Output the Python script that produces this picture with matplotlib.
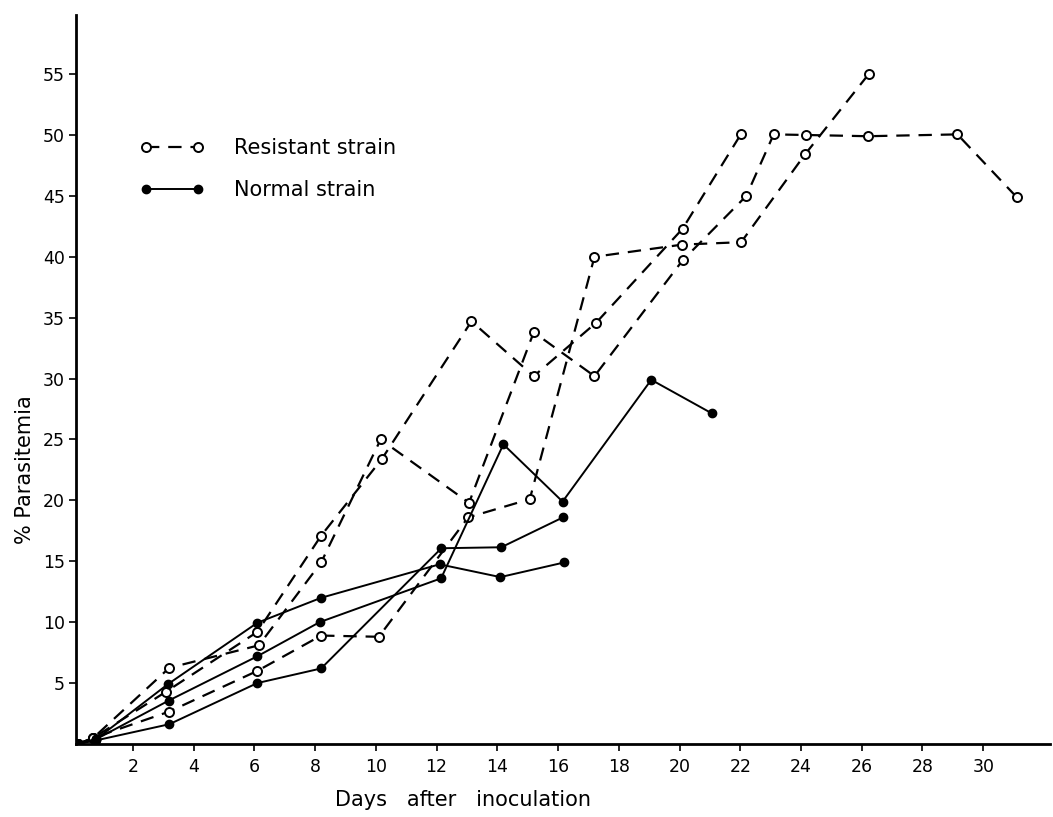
import matplotlib
matplotlib.use("Agg")
import matplotlib.pyplot as plt

# Resistant strain (open circles, dashed)
res_a_days = [0.2, 0.7, 3.1, 6.1, 8.2, 10.2, 13.15, 15.2, 17.26, 20.1, 22.03]
res_a_vals = [0, 0.5, 4.3, 9.2, 17.1, 23.4, 34.7, 30.2, 34.6, 42.3, 50.1]
res_b_days = [0.2, 0.7, 3.2, 6.15, 8.2, 10.16, 13.07, 15.2, 17.2, 20.1, 22.2, 23.1, 24.17, 26.2, 29.15, 31.1]
res_b_vals = [0, 0.5, 6.25, 8.1, 14.9, 25.0, 19.8, 33.8, 30.2, 39.7, 45.0, 50.05, 50.0, 49.9, 50.05, 44.9]
res_c_days = [0.2, 0.7, 3.2, 6.1, 8.2, 10.1, 13.04, 15.07, 17.2, 20.09, 22.03, 24.13, 26.23]
res_c_vals = [0, 0.5, 2.66, 6.0, 8.9, 8.8, 18.6, 20.1, 40.0, 41.0, 41.2, 48.4, 55.0]

# Normal strain (filled circles, solid)
norm_a_days = [0.2, 0.8, 3.15, 6.1, 8.2, 12.1, 14.1, 16.2]
norm_a_vals = [0, 0.4, 4.9, 9.95, 12.0, 14.75, 13.7, 14.9]
norm_b_days = [0.2, 0.8, 3.18, 6.1, 8.15, 12.15, 14.2, 16.15, 19.07, 21.06]
norm_b_vals = [0, 0.4, 3.56, 7.2, 10.0, 13.6, 24.6, 19.9, 29.9, 27.15]
norm_c_days = [0.2, 0.8, 3.2, 6.1, 8.2, 12.16, 14.13, 16.16]
norm_c_vals = [0, 0.3, 1.62, 5.0, 6.2, 16.07, 16.15, 18.6]

x_ticks = list(range(2, 31, 2))
y_ticks = list(range(5, 56, 5))

fig = plt.figure(figsize=(10.53, 8.17), dpi=100)
ax = fig.add_axes([0.0722, 0.0894, 0.925, 0.8922])

res_style = dict(color="black", linestyle=(0, (6, 4)), linewidth=1.6,
                 marker="o", markersize=6.5, markerfacecolor="white",
                 markeredgecolor="black", markeredgewidth=1.4)
norm_style = dict(color="black", linestyle="-", linewidth=1.4,
                  marker="o", markersize=6, markerfacecolor="black",
                  markeredgecolor="black")

ax.plot(res_a_days, res_a_vals, label="Resistant strain", **res_style)
ax.plot(res_b_days, res_b_vals, **res_style)
ax.plot(res_c_days, res_c_vals, **res_style)
ax.plot(norm_a_days, norm_a_vals, label="Normal strain", **norm_style)
ax.plot(norm_b_days, norm_b_vals, **norm_style)
ax.plot(norm_c_days, norm_c_vals, **norm_style)

ax.set_xlim(0.13, 32.2)
ax.set_ylim(0, 59.85)
ax.set_xticks(x_ticks)
ax.set_yticks(y_ticks)
ax.tick_params(direction="out", length=5, width=1.2, labelsize=12.5)
ax.tick_params(axis="x", pad=5)
ax.tick_params(axis="y", pad=3)

for s in ["top", "right"]:
    ax.spines[s].set_visible(False)
for s in ["left", "bottom"]:
    ax.spines[s].set_linewidth(2)

fig.text(0.024, 0.425, "% Parasitemia", rotation=90, ha="center", va="center", fontsize=15)
fig.text(463 / 1053, 1 - 800 / 817, "Days   after   inoculation", ha="center", va="center", fontsize=15)

leg = ax.legend(loc="upper left", bbox_to_anchor=(140 / 1053, 1 - 138 / 817),
                bbox_transform=fig.transFigure, frameon=False, numpoints=2,
                handlelength=3.1, handletextpad=1.4, labelspacing=1.05,
                fontsize=15, borderpad=0, borderaxespad=0)

fig.savefig("out.png", dpi=100)
